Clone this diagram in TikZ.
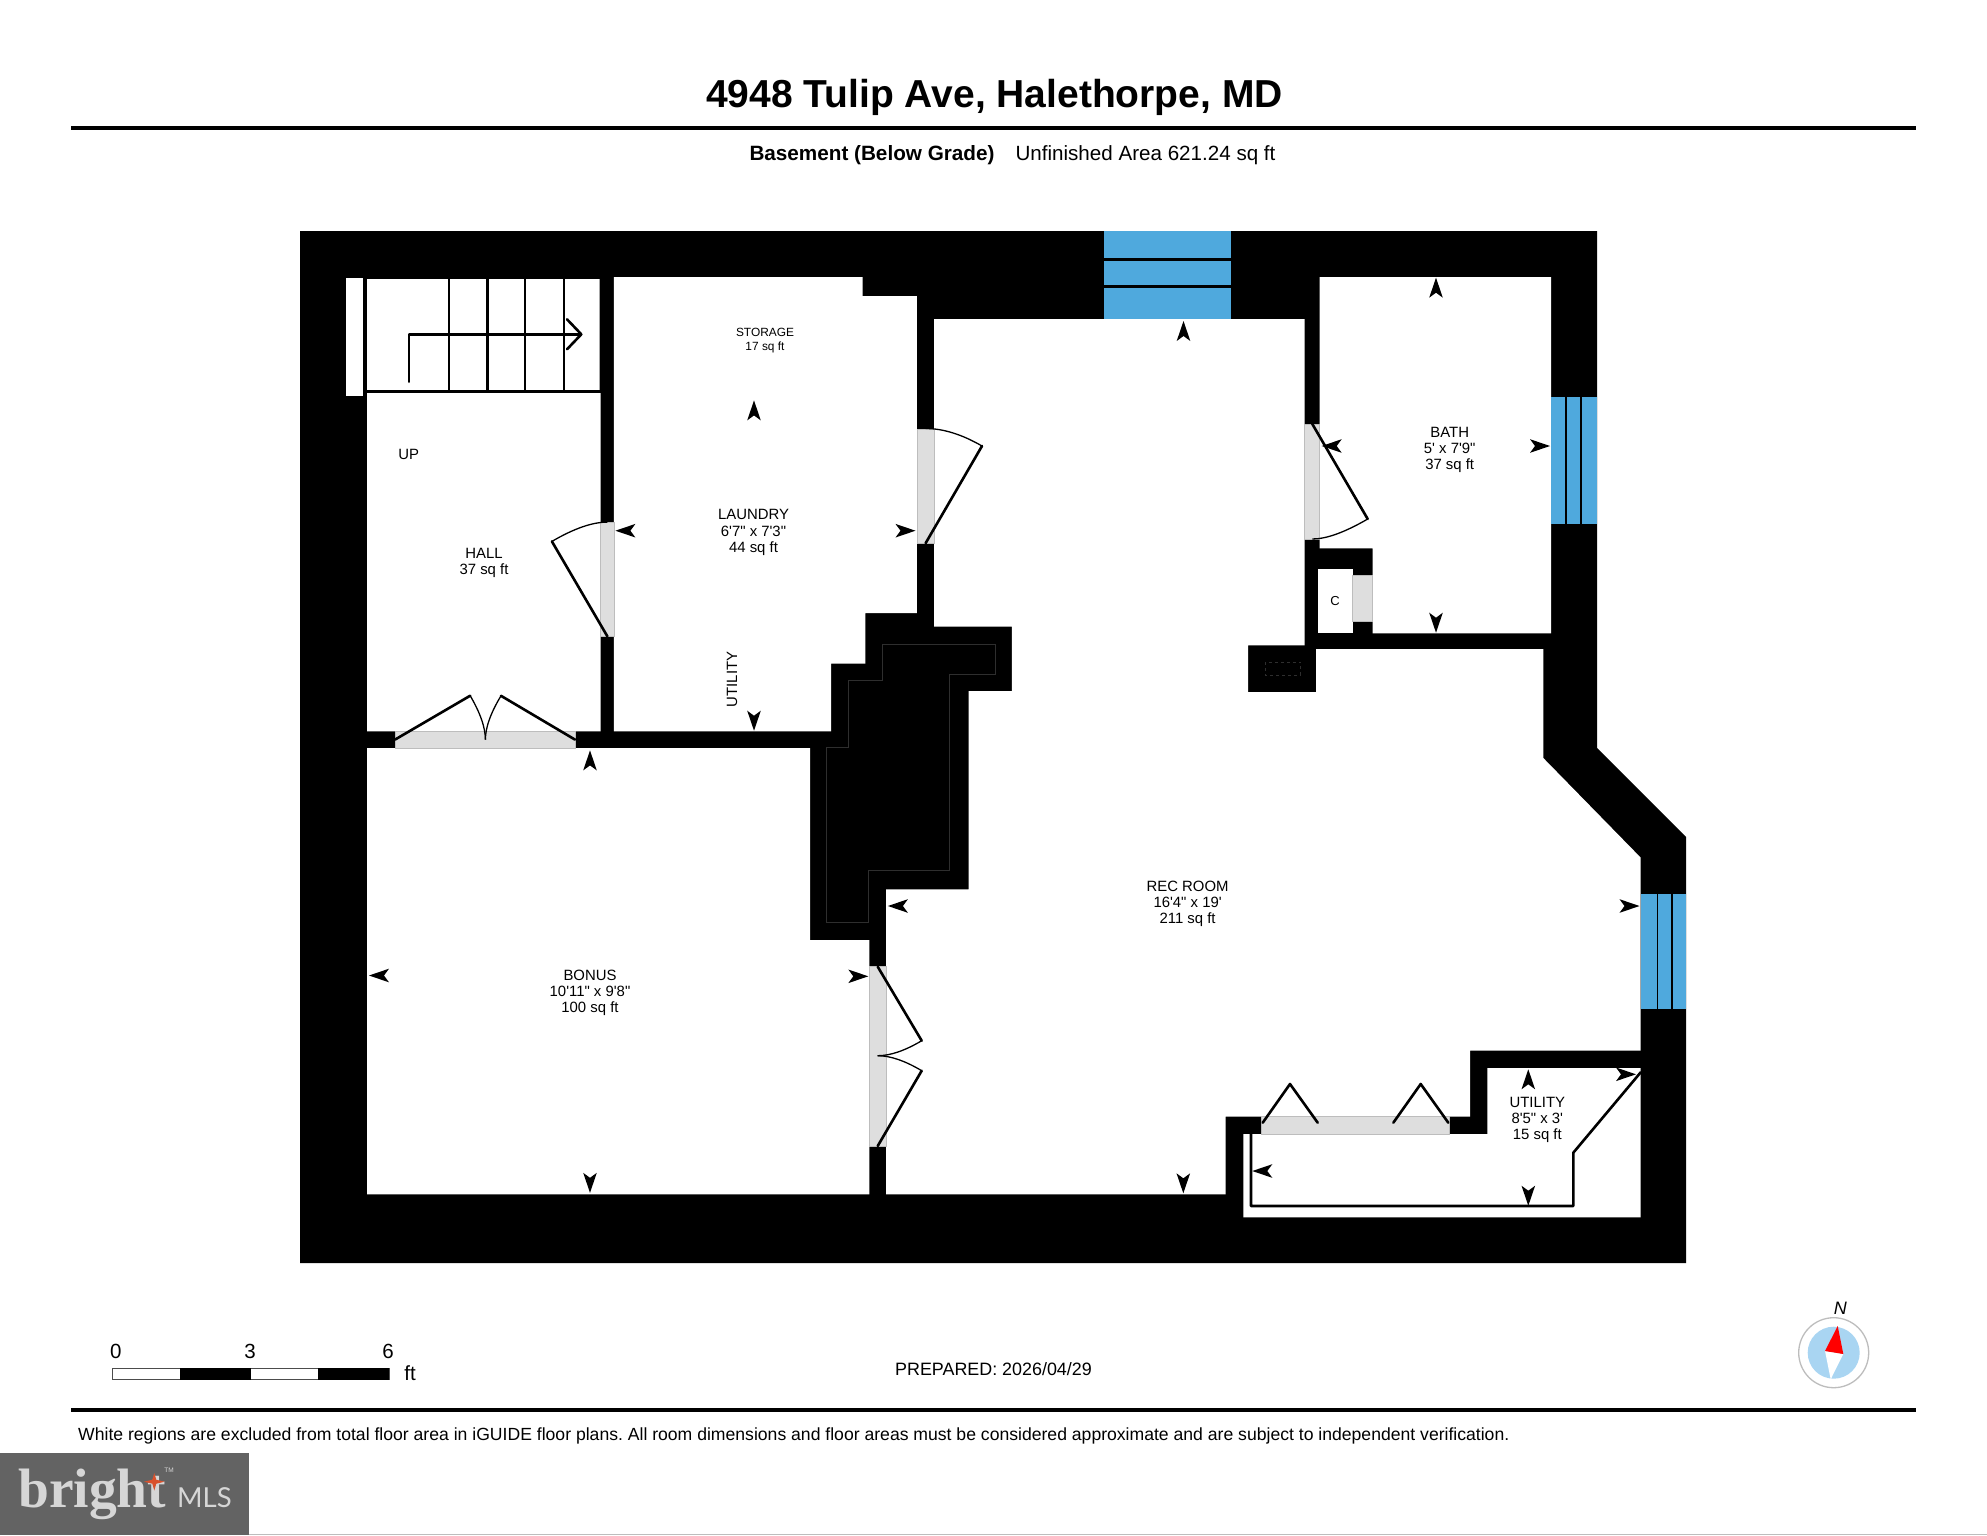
\documentclass[tikz,border=0pt]{standalone}
\usepackage{fontspec}
\setmainfont{Liberation Sans}
\newfontfamily\planfont{Liberation Sans}
\newfontfamily\brandserif{Liberation Serif}
\newfontfamily\brandsans{Lato}
\frenchspacing
\definecolor{glassblue}{HTML}{4FA9DD}
\definecolor{doorgray}{HTML}{DEDEDE}
\definecolor{edgegray}{HTML}{BDBDBD}
\definecolor{brandgray}{HTML}{636363}
\definecolor{brandlight}{HTML}{D6D6D6}
\definecolor{brandstar}{HTML}{D9512C}
\definecolor{compassblue}{HTML}{A9D5F2}
\definecolor{outlinegray}{HTML}{2E2E2E}
\newcommand{\dimtip}[3]{\fill[black,shift={(#1,#2)},rotate=#3] (0,0) -- (-20,-6.8) -- (-15,0) -- (-20,6.8) -- cycle;}
\tikzset{
  room/.style={fill=white,draw=none},
  doorway/.style={fill=doorgray,draw=edgegray,line width=0.6pt},
  glass/.style={fill=glassblue,draw=none},
  leaf/.style={draw=black,line width=2.6pt,line cap=round,line join=round},
  swing/.style={draw=black,line width=1.3pt},
  hidden/.style={draw=outlinegray,line width=0.7pt},
  label/.style={inner sep=0pt,align=center,font={\planfont\fontsize{14.9}{16.1}\selectfont}},
  smalllabel/.style={inner sep=0pt,align=center,font={\planfont\fontsize{11.9}{13.2}\selectfont}},
  scalelabel/.style={inner sep=0pt,font={\planfont\fontsize{20.5}{22}\selectfont}},
}
\begin{document}
\begin{tikzpicture}[x=1pt,y=-1pt]
\useasboundingbox (0,0) rectangle (1987,1535);
\fill[white] (0,0) rectangle (1987,1535);
% header
\node[inner sep=0pt,font={\planfont\fontsize{39}{41}\selectfont\bfseries}] (title) at (994.5,97) {4948 Tulip Ave, Halethorpe, MD};
\fill[black] (71,126.3) rectangle (1916,129.7);
\node[inner sep=0pt,font={\planfont\fontsize{20.7}{22}\selectfont\bfseries}] (level) at (872,155) {Basement (Below Grade)};
\node[inner sep=0pt,font={\planfont\fontsize{20.6}{22}\selectfont}] (area) at (1145.5,155) {Unfinished Area 621.24 sq ft};
% building mass
\fill[black] (300,231) -- (1597,231) -- (1597,748) -- (1686,837) -- (1686,1263) -- (300,1263) -- cycle;
% rooms
\fill[room] (346,278) rectangle (363.3,396.4);
\fill[room] (365.4,279) -- (599.5,279) -- (599.5,391.4) -- (600.7,391.4) -- (600.7,731.4) -- (367,731.4) -- (367,391.4) -- (365.4,391.4) -- cycle;
\fill[room] (613.8,277.1) -- (862.5,277.1) -- (862.5,296) -- (916.8,296) -- (916.8,613.2) -- (865.4,613.2) -- (865.4,663.6) -- (831,663.6) -- (831,731.4) -- (613.8,731.4) -- cycle;
\fill[room] (367,748.2) -- (810,748.2) -- (810,940) -- (869.3,940) -- (869.3,1194.3) -- (367,1194.3) -- cycle;
\fill[room] (934.2,319) -- (1304.7,319) -- (1304.7,645.3) -- (1248,645.3) -- (1248,692) -- (1316,692) -- (1316,649) -- (1543.3,649) -- (1543.3,758) -- (1640.7,857.6) -- (1640.7,1050.7) -- (1470,1050.7) -- (1470,1116.7) -- (1225.7,1116.7) -- (1225.7,1194.3) -- (886,1194.3) -- (886,889.3) -- (968.7,889.3) -- (968.7,691) -- (1011.9,691) -- (1011.9,626.7) -- (934.2,626.7) -- cycle;
\fill[room] (1319.7,277) -- (1551,277) -- (1551,633.3) -- (1372.7,633.3) -- (1372.7,548.3) -- (1319.7,548.3) -- cycle;
\fill[room] (1318,568.7) rectangle (1352.7,633.3);
\fill[room] (1243.3,1134) -- (1487.3,1134) -- (1487.3,1068) -- (1640.7,1068) -- (1640.7,1217.3) -- (1243.3,1217.3) -- cycle;
% hidden outlines
\draw[hidden] (882.6,644) -- (995,644) -- (995,674) -- (949.5,674) -- (949.5,870) -- (868.8,870) -- (868.8,922.7) -- (826.3,922.7) -- (826.3,747.7) -- (848.1,747.7) -- (848.1,680.3) -- (882.6,680.3) -- cycle;
\draw[hidden,dashed] (1264.9,662.3) rectangle (1300.5,675);
% windows
\fill[glass] (1103.5,231) rectangle (1231,319);
\draw[black,line width=2.6pt] (1103.5,259.3) -- (1231,259.3) (1103.5,286.7) -- (1231,286.7);
\fill[glass] (1551,397.3) rectangle (1597,524);
\draw[black,line width=1.6pt] (1566,397.3) -- (1566,524) (1580.7,397.3) -- (1580.7,524);
\fill[glass] (1640.7,893.5) rectangle (1686,1009.3);
\draw[black,line width=1.6pt] (1657.3,893.5) -- (1657.3,1009.3) (1671.7,893.5) -- (1671.7,1009.3);
% doorways
\filldraw[doorway] (600.7,522.1) rectangle (613.8,636.4);
\filldraw[doorway] (395,731.4) rectangle (575,748.2);
\filldraw[doorway] (916.8,429) rectangle (934.5,543.2);
\filldraw[doorway] (1304.7,424) rectangle (1319.7,539.3);
\filldraw[doorway] (1352.7,575.7) rectangle (1372.7,621.3);
\filldraw[doorway] (869.3,966) rectangle (886,1146.7);
\filldraw[doorway] (1261.7,1116.7) rectangle (1449.3,1134);
% door leaves
\draw[leaf] (607.4,636.4) -- (551.9,541.4);
\draw[swing] (551.9,541.4) .. controls (574,528.5) and (592.3,522.1) .. (607.4,522.1);
\draw[leaf] (395,739.6) -- (470.2,695.7);
\draw[swing] (470.2,695.7) .. controls (480.3,713) and (485.4,727.7) .. (485.4,739.6);
\draw[leaf] (575,739.6) -- (501,695.8);
\draw[swing] (501,695.8) .. controls (490.6,713) and (485.4,727.7) .. (485.4,739.6);
\draw[leaf] (925.6,543.2) -- (982,446);
\draw[swing] (982,446) .. controls (961.8,434.3) and (943,428.5) .. (925.6,428.5);
\draw[leaf] (1312.3,424) -- (1367.7,519);
\draw[swing] (1367.7,519) .. controls (1344.8,532.3) and (1326.4,539) .. (1312.3,539);
\draw[leaf] (877.7,966.7) -- (921.7,1040.7);
\draw[swing] (921.7,1040.7) .. controls (904.9,1050.7) and (890.2,1055.7) .. (877.7,1055.7);
\draw[leaf] (877.7,1146) -- (921.7,1070.7);
\draw[swing] (921.7,1070.7) .. controls (904.9,1060.7) and (890.2,1055.7) .. (877.7,1055.7);
\draw[leaf] (1262.7,1122.7) -- (1290,1084) -- (1317.7,1122.7);
\draw[leaf] (1393.3,1122.7) -- (1420.7,1084) -- (1448.3,1122.7);
% utility outline
\draw[leaf] (1251,1134) -- (1251,1206) -- (1573.3,1206) -- (1573.3,1152.7) -- (1640.7,1072.3);
% stairs
\draw[black,line width=2.2pt] (365.4,279) -- (365.4,391.4) -- (600.7,391.4);
\draw[black,line width=2.2pt] (448.8,279) -- (448.8,391.4) (487.5,279) -- (487.5,391.4) (525,279) -- (525,391.4) (563.7,279) -- (563.7,391.4);
\draw[leaf] (409,381.8) -- (409,334.3) -- (581.3,334.3);
\draw[leaf] (567,319.3) -- (581.3,334.3) -- (567,349.3);
% dimension tips
\dimtip{754}{400.4}{90}
\dimtip{615.4}{530.7}{180}
\dimtip{915.5}{530.7}{0}
\dimtip{754}{730.7}{270}
\dimtip{590}{750.4}{90}
\dimtip{590}{1192.8}{270}
\dimtip{369}{975.5}{180}
\dimtip{868.3}{976.3}{0}
\dimtip{1183.5}{321}{90}
\dimtip{1183.3}{1193.3}{270}
\dimtip{887.9}{906}{180}
\dimtip{1639.5}{906}{0}
\dimtip{1436}{277.7}{90}
\dimtip{1436}{632.7}{270}
\dimtip{1321.7}{446}{180}
\dimtip{1550}{446}{0}
\dimtip{1528.3}{1069.3}{90}
\dimtip{1528.3}{1205.7}{270}
\dimtip{1252.3}{1171}{180}
\dimtip{1636}{1074.3}{0}
% labels
\node[smalllabel] (storage) at (765,340.5) {STORAGE\\17 sq ft};
\node[label] (laundry) at (753.5,532.5) {LAUNDRY\\6'7" x 7'3"\\44 sq ft};
\node[label] (hall) at (484,563.3) {HALL\\37 sq ft};
\node[label] (up) at (408.8,454) {UP};
\node[label,rotate=90] (utilityv) at (732,679.3) {UTILITY};
\node[label] (recroom) at (1187.6,903.5) {REC ROOM\\16'4" x 19'\\211 sq ft};
\node[label] (bonus) at (590,993) {BONUS\\10'11" x 9'8"\\100 sq ft};
\node[label] (bath) at (1449.7,449.7) {BATH\\5' x 7'9"\\37 sq ft};
\node[smalllabel,font={\planfont\fontsize{13}{14}\selectfont}] (closet) at (1335,601.5) {C};
\node[label] (utility) at (1537.3,1119.8) {UTILITY\\8'5" x 3'\\15 sq ft};
% scale bar
\draw[black!70,line width=1pt,fill=white] (112.3,1368.7) rectangle (389,1379);
\fill[black] (180,1368.2) rectangle (250.7,1379.5);
\fill[black] (318,1368.2) rectangle (389,1379.5);
\node[scalelabel] (s0) at (115.7,1351.5) {0};
\node[scalelabel] (s3) at (250,1351.5) {3};
\node[scalelabel] (s6) at (388,1351.5) {6};
\node[scalelabel] (sft) at (410,1373.5) {ft};
% prepared
\node[inner sep=0pt,font={\planfont\fontsize{17.9}{19}\selectfont}] (prepared) at (993.5,1369) {PREPARED: 2026/04/29};
% compass
\draw[edgegray,line width=1.3pt,fill=white] (1833.7,1352.7) circle[radius=35];
\fill[compassblue] (1833.7,1352.7) circle[radius=26];
\fill[white] (1825,1351) -- (1843.3,1354) -- (1830.7,1379.3) -- cycle;
\fill[red] (1837.7,1326) -- (1843.3,1354) -- (1825,1351) -- cycle;
\node[inner sep=0pt,font={\planfont\fontsize{18}{20}\selectfont\itshape}] (north) at (1840.3,1308.3) {N};
% footer
\fill[black] (71,1408.3) rectangle (1916,1411.7);
\node[inner sep=0pt,anchor=west,font={\planfont\fontsize{17.6}{19}\selectfont}] (note) at (78,1435.5) {White regions are excluded from total floor area in iGUIDE floor plans. All room dimensions and floor areas must be considered approximate and are subject to independent verification.};
% brand
\fill[brandgray] (0,1453) rectangle (249,1535);
\draw[edgegray,line width=0.8pt] (249,1534.6) -- (1987,1534.6);
\node[inner sep=0pt,anchor=base west,text=brandlight,font={\brandserif\fontsize{55.5}{58}\selectfont\bfseries}] (bright) at (18,1507) {bright};
\fill[brandstar] (154.3,1473) -- (156.3,1479.7) -- (164.5,1481.7) -- (156.3,1483.7) -- (154.3,1490.5) -- (152.3,1483.7) -- (144,1481.7) -- (152.3,1479.7) -- cycle;
\node[inner sep=0pt,anchor=base west,text=brandlight,font={\brandsans\fontsize{27.5}{29}\selectfont}] (mls) at (177,1507) {MLS};
\node[inner sep=0pt,text=brandlight,font={\planfont\fontsize{6.5}{7}\selectfont}] (tm) at (169,1470) {TM};
\end{tikzpicture}
\end{document}
